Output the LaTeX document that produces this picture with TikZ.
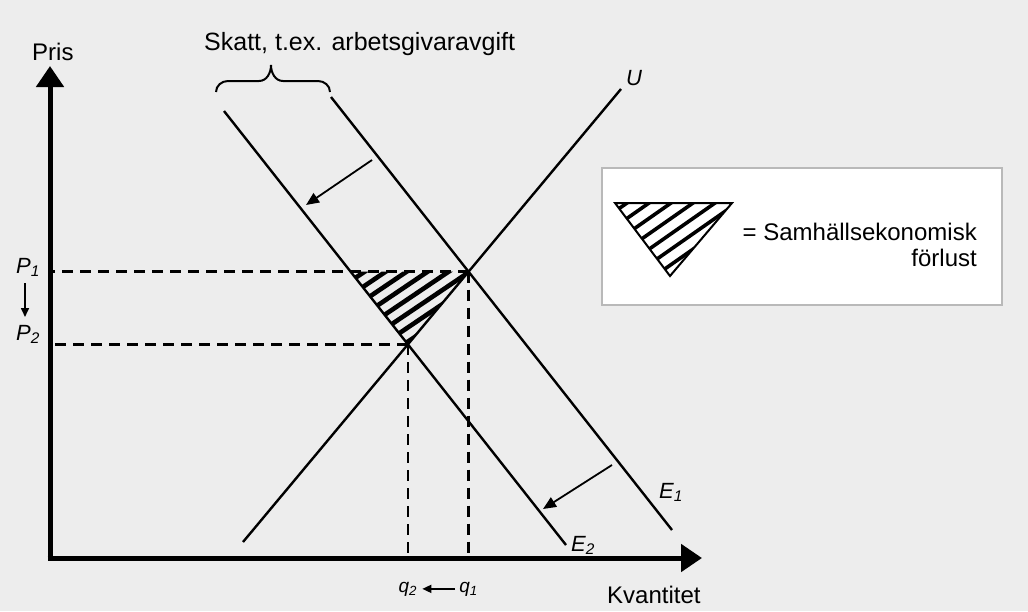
\documentclass[tikz,border=0pt]{standalone}
\usepackage{fontspec}
\setmainfont{Liberation Sans}
\usetikzlibrary{arrows.meta,intersections,calc}
\begin{document}
\begin{tikzpicture}[x=1pt,y=-1pt,
  axis/.style={line width=5pt,-{Triangle[length=21pt,width=27pt]}},
  curve/.style={line width=2.4pt},
  guide/.style={line width=2.6pt,dash pattern=on 11pt off 7pt},
  shiftarrow/.style={line width=1.8pt,-{Triangle[length=13pt,width=11pt]}},
  smallarrow/.style={line width=1.6pt,-{Triangle[length=9pt,width=8pt]}},
  lbl/.style={font=\fontsize{24}{28}\selectfont,inner sep=0pt},
  sym/.style={font=\fontsize{22}{26}\selectfont\itshape,inner sep=0pt},
  qsym/.style={font=\fontsize{19}{22}\selectfont\itshape,inner sep=0pt},
  hatch/.style={line width=4.6pt},
  lhatch/.style={line width=3.6pt},
  legendbox/.style={draw=gray!55,line width=2pt,fill=white}
]
\fill[black!7] (0,0) rectangle (1028,611);
\useasboundingbox (0,0) rectangle (1028,611);

% legend box
\draw[legendbox] (602,168) rectangle (1002,305);

% curves
\draw[curve,name path=U] (243,542) coordinate (U0) -- (621,89) coordinate (U1);
\draw[curve,name path=E1] (331,97) coordinate (E1a) -- (672,530) coordinate (E1b);
\draw[curve,name path=E2] (224,111) coordinate (E2a) -- (566,545) coordinate (E2b);
\path[name intersections={of=U and E1,by=A}];
\path[name intersections={of=U and E2,by=B}];

% axes
\coordinate (O) at (50,558);
\coordinate (ytip) at (50,66);
\coordinate (xtip) at (702,558);
\draw[axis] (50,560.5) -- (ytip);
\draw[axis] (47.5,558) -- (xtip);

% guides
\path[name path=H] (A -| O) -- (A);
\path[name intersections={of=H and E2,by=C}];
\draw[guide] (A) -- ($(A -| O)+(3,0)$);
\draw[guide] (B) -- ($(B -| O)+(3,0)$);
\draw[guide] (A) -- ($(A |- O)+(0,-3)$);
\draw[guide] (B) -- ($(B |- O)+(0,-3)$);

% hatched loss triangle
\begin{scope}
  \clip (C) -- (A) -- (B) -- cycle;
  \foreach \k in {0,...,7}
    \draw[hatch] ($(C)+(14+\k*21,0)$) ++(-34:40) -- ++(146:180);
\end{scope}

% shift arrows
\coordinate (s1a) at (372,160); \coordinate (s1b) at (306,205);
\coordinate (s2a) at (612,465); \coordinate (s2b) at (543,509);
\draw[shiftarrow] (s1a) -- (s1b);
\draw[shiftarrow] (s2a) -- (s2b);

% brace
\draw[line width=2pt] (216,92) to[out=90,in=180] (228,81) -- (259,81)
  to[out=0,in=-90] (271,65) to[out=-90,in=180] (283,81) -- (318,81)
  to[out=0,in=90] (330,92);

% labels
\node[lbl,anchor=base west] (pris) at (32,60) {Pris};
\node[lbl,anchor=base west,font=\fontsize{25}{29}\selectfont] (skatt) at (204,50) {Skatt, t.ex. arbetsgivaravgift};
\node[lbl,anchor=base west] (kvant) at (607,603) {Kvantitet};
\node[sym,anchor=base west] (Ulbl) at (626,85) {U};
\node[sym,anchor=base west] (E1lbl) at (659,498) {E\textsubscript{1}};
\node[sym,anchor=base west] (E2lbl) at (571,551) {E\textsubscript{2}};
\node[sym,anchor=base west] (P1lbl) at (16,273) {P\textsubscript{1}};
\node[sym,anchor=base west] (P2lbl) at (16,340) {P\textsubscript{2}};
\draw[smallarrow] (25,283) coordinate (pa) -- (25,317) coordinate (pb);
\node[qsym,anchor=base] (q2lbl) at ($(B |- O)+(0,34)$) {q\textsubscript{2}};
\node[qsym,anchor=base] (q1lbl) at ($(A |- O)+(0,34)$) {q\textsubscript{1}};
\draw[smallarrow] ($(q1lbl.west)+(-4,0)$) -- ($(q2lbl.east)+(5,0)$);

% legend
\coordinate (L1) at (615,203); \coordinate (L2) at (732,203); \coordinate (L3) at (670,276);
\begin{scope}
  \clip (L1) -- (L2) -- (L3) -- cycle;
  \foreach \k in {0,...,7}
    \draw[lhatch] ($(L1)+(12+\k*22,0)$) ++(-35:40) -- ++(145:180);
\end{scope}
\draw[line width=2pt,line join=miter] (L1) -- (L2) -- (L3) -- cycle;
\node[lbl,anchor=base east] (leg1) at (977,240) {= Samhällsekonomisk};
\node[lbl,anchor=base east] (leg2) at (977,266) {förlust};
\end{tikzpicture}
\end{document}
